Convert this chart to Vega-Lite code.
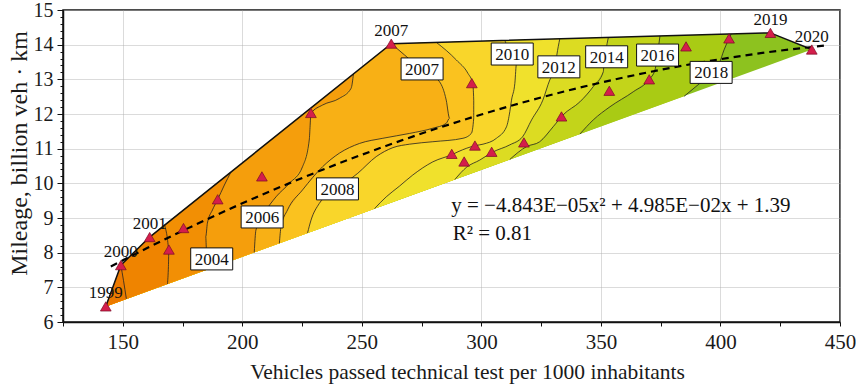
{
  "$schema": "https://vega.github.io/schema/vega-lite/v6.json",
  "width": 777,
  "height": 312,
  "autosize": {"type": "none"},
  "padding": {"left": 63, "top": 10, "right": 16, "bottom": 66},
  "background": "white",
  "view": {"stroke": "#111", "strokeWidth": 1.5},
  "config": {
    "axis": {
      "labelFont": "Liberation Serif",
      "titleFont": "Liberation Serif",
      "labelFontSize": 21,
      "titleFontSize": 21.5,
      "titleFontWeight": "normal",
      "labelColor": "#1a1a1a",
      "titleColor": "#1a1a1a",
      "domainColor": "#111",
      "domainWidth": 1.5,
      "tickColor": "#111",
      "gridColor": "#b0b0b0",
      "labelFlush": false,
      "labelOverlap": false,
      "zindex": 1
    }
  },
  "datasets": {
    "shape": [
      {"c": "H", "o": 1, "x": 142.9, "y": 6.45},
      {"c": "H", "o": 2, "x": 149.2, "y": 7.64},
      {"c": "H", "o": 3, "x": 161.25, "y": 8.45},
      {"c": "H", "o": 4, "x": 262.3, "y": 14.03},
      {"c": "H", "o": 5, "x": 420.9, "y": 14.34},
      {"c": "H", "o": 6, "x": 438.2, "y": 13.86},
      {"c": "K4", "o": 101, "x": 142.9, "y": 6.45},
      {"c": "K4", "o": 102, "x": 149.2, "y": 7.64},
      {"c": "K4", "o": 103, "x": 161.25, "y": 8.45},
      {"c": "K4", "o": 104, "x": 262.3, "y": 14.03},
      {"c": "K3", "o": 101, "x": 142.9, "y": 6.45},
      {"c": "K3", "o": 102, "x": 149.2, "y": 7.64},
      {"c": "K3", "o": 103, "x": 161.25, "y": 8.45},
      {"c": "K1", "o": 101, "x": 142.9, "y": 6.45},
      {"c": "C1", "o": 1, "x": 149.2, "y": 7.64},
      {"c": "C1", "o": 2, "x": 150.3, "y": 7.2},
      {"c": "C1", "o": 3, "x": 151.5, "y": 6.67},
      {"c": "C2", "o": 1, "x": 167.5, "y": 8.8},
      {"c": "C2", "o": 2, "x": 168.6, "y": 8.45},
      {"c": "C2", "o": 3, "x": 169.3, "y": 8.09},
      {"c": "C2", "o": 4, "x": 169.1, "y": 7.6},
      {"c": "C2", "o": 5, "x": 168.7, "y": 7.1},
      {"c": "C3", "o": 1, "x": 195.2, "y": 10.32},
      {"c": "C3", "o": 2, "x": 192.5, "y": 9.95},
      {"c": "C3", "o": 3, "x": 189.6, "y": 9.52},
      {"c": "C3", "o": 4, "x": 187.5, "y": 9.23},
      {"c": "C3", "o": 5, "x": 185.4, "y": 8.85},
      {"c": "C3", "o": 6, "x": 184.7, "y": 8.46},
      {"c": "C3", "o": 7, "x": 185.0, "y": 8.03},
      {"c": "C3", "o": 8, "x": 185.4, "y": 7.52},
      {"c": "C6", "o": 1, "x": 246.5, "y": 13.16},
      {"c": "C6", "o": 2, "x": 245.5, "y": 12.74},
      {"c": "C6", "o": 3, "x": 240.6, "y": 12.45},
      {"c": "C6", "o": 4, "x": 233.6, "y": 12.26},
      {"c": "C6", "o": 5, "x": 228.75, "y": 12.02},
      {"c": "C6", "o": 6, "x": 228.0, "y": 11.25},
      {"c": "C6", "o": 7, "x": 225.2, "y": 10.48},
      {"c": "C6", "o": 8, "x": 219.7, "y": 10.0},
      {"c": "C6", "o": 9, "x": 214.1, "y": 9.61},
      {"c": "C6", "o": 10, "x": 209.2, "y": 9.14},
      {"c": "C6", "o": 11, "x": 205.7, "y": 8.65},
      {"c": "C6", "o": 12, "x": 205.0, "y": 8.01},
      {"c": "L7", "o": 1, "x": 262.3, "y": 14.03},
      {"c": "L7", "o": 2, "x": 267.9, "y": 13.7},
      {"c": "L7", "o": 3, "x": 274.2, "y": 13.33},
      {"c": "L7", "o": 4, "x": 282.5, "y": 12.93},
      {"c": "L7", "o": 5, "x": 285.3, "y": 12.4},
      {"c": "L7", "o": 6, "x": 286.7, "y": 11.88},
      {"c": "L7", "o": 7, "x": 285.3, "y": 11.73},
      {"c": "L7", "o": 8, "x": 279.7, "y": 11.59},
      {"c": "L7", "o": 9, "x": 270.0, "y": 11.44},
      {"c": "L7", "o": 10, "x": 258.8, "y": 11.3},
      {"c": "L7", "o": 11, "x": 249.0, "y": 11.15},
      {"c": "L7", "o": 12, "x": 240.6, "y": 10.87},
      {"c": "L7", "o": 13, "x": 233.6, "y": 10.48},
      {"c": "L7", "o": 14, "x": 225.2, "y": 9.81},
      {"c": "L7", "o": 15, "x": 218.9, "y": 9.23},
      {"c": "L7", "o": 16, "x": 216.2, "y": 8.75},
      {"c": "L7", "o": 17, "x": 215.5, "y": 8.27},
      {"c": "L8", "o": 1, "x": 281.1, "y": 14.07},
      {"c": "L8", "o": 2, "x": 289.5, "y": 13.56},
      {"c": "L8", "o": 3, "x": 294.4, "y": 13.17},
      {"c": "L8", "o": 4, "x": 296.35, "y": 12.89},
      {"c": "L8", "o": 5, "x": 296.8, "y": 12.4},
      {"c": "L8", "o": 6, "x": 296.8, "y": 11.88},
      {"c": "L8", "o": 7, "x": 295.8, "y": 11.44},
      {"c": "L8", "o": 8, "x": 292.3, "y": 11.3},
      {"c": "L8", "o": 9, "x": 279.7, "y": 11.2},
      {"c": "L8", "o": 10, "x": 270.0, "y": 11.13},
      {"c": "L8", "o": 11, "x": 263.0, "y": 11.03},
      {"c": "L8", "o": 12, "x": 256.0, "y": 10.77},
      {"c": "L8", "o": 13, "x": 248.3, "y": 10.29},
      {"c": "L8", "o": 14, "x": 239.8, "y": 9.84},
      {"c": "L8", "o": 15, "x": 232.2, "y": 9.42},
      {"c": "L8", "o": 16, "x": 228.75, "y": 8.94},
      {"c": "L8", "o": 17, "x": 227.3, "y": 8.57},
      {"c": "L10", "o": 1, "x": 309.8, "y": 14.12},
      {"c": "L10", "o": 2, "x": 311.9, "y": 13.79},
      {"c": "L10", "o": 3, "x": 314.7, "y": 13.46},
      {"c": "L10", "o": 4, "x": 314.0, "y": 12.885},
      {"c": "L10", "o": 5, "x": 312.6, "y": 12.4},
      {"c": "L10", "o": 6, "x": 311.9, "y": 12.07},
      {"c": "L10", "o": 7, "x": 310.5, "y": 11.63},
      {"c": "L10", "o": 8, "x": 306.3, "y": 11.3},
      {"c": "L10", "o": 9, "x": 300.7, "y": 11.13},
      {"c": "L10", "o": 10, "x": 297.6, "y": 11.09},
      {"c": "L10", "o": 11, "x": 290.2, "y": 10.91},
      {"c": "L10", "o": 12, "x": 288.1, "y": 10.84},
      {"c": "L10", "o": 13, "x": 279.7, "y": 10.62},
      {"c": "L10", "o": 14, "x": 271.3, "y": 10.24},
      {"c": "L10", "o": 15, "x": 265.75, "y": 9.92},
      {"c": "L10", "o": 16, "x": 260.2, "y": 9.61},
      {"c": "L10", "o": 17, "x": 255.3, "y": 9.27},
      {"c": "L12", "o": 1, "x": 332.8, "y": 14.17},
      {"c": "L12", "o": 2, "x": 331.55, "y": 13.7},
      {"c": "L12", "o": 3, "x": 330.7, "y": 13.27},
      {"c": "L12", "o": 4, "x": 328.6, "y": 12.98},
      {"c": "L12", "o": 5, "x": 325.7, "y": 12.4},
      {"c": "L12", "o": 6, "x": 321.0, "y": 11.83},
      {"c": "L12", "o": 7, "x": 317.2, "y": 11.34},
      {"c": "L12", "o": 8, "x": 311.9, "y": 11.11},
      {"c": "L12", "o": 9, "x": 304.7, "y": 10.9},
      {"c": "L12", "o": 10, "x": 299.3, "y": 10.67},
      {"c": "L12", "o": 11, "x": 293.9, "y": 10.47},
      {"c": "L12", "o": 12, "x": 288.9, "y": 10.11},
      {"c": "L14", "o": 1, "x": 353.1, "y": 14.21},
      {"c": "L14", "o": 2, "x": 352.1, "y": 13.85},
      {"c": "L14", "o": 3, "x": 351.3, "y": 13.5},
      {"c": "L14", "o": 4, "x": 351.0, "y": 13.22},
      {"c": "L14", "o": 5, "x": 346.8, "y": 12.79},
      {"c": "L14", "o": 6, "x": 341.2, "y": 12.35},
      {"c": "L14", "o": 7, "x": 334.1, "y": 11.97},
      {"c": "L14", "o": 8, "x": 330.0, "y": 11.63},
      {"c": "L14", "o": 9, "x": 324.4, "y": 11.2},
      {"c": "L14", "o": 10, "x": 318.9, "y": 11.06},
      {"c": "L14", "o": 11, "x": 311.9, "y": 10.69},
      {"c": "L16", "o": 1, "x": 374.7, "y": 14.25},
      {"c": "L16", "o": 2, "x": 373.9, "y": 13.85},
      {"c": "L16", "o": 3, "x": 372.6, "y": 13.27},
      {"c": "L16", "o": 4, "x": 370.2, "y": 13.0},
      {"c": "L16", "o": 5, "x": 363.5, "y": 12.64},
      {"c": "L16", "o": 6, "x": 353.8, "y": 12.21},
      {"c": "L16", "o": 7, "x": 346.8, "y": 11.83},
      {"c": "L16", "o": 8, "x": 341.2, "y": 11.42},
      {"c": "L18", "o": 1, "x": 404.5, "y": 14.31},
      {"c": "L18", "o": 2, "x": 403.6, "y": 14.18},
      {"c": "L18", "o": 3, "x": 401.5, "y": 13.85},
      {"c": "L18", "o": 4, "x": 399.5, "y": 13.46},
      {"c": "L18", "o": 5, "x": 395.3, "y": 13.12},
      {"c": "L18", "o": 6, "x": 389.7, "y": 12.79},
      {"c": "L18", "o": 7, "x": 384.8, "y": 12.51}
    ],
    "trend": [
      {"x": 145, "y": 7.6}, {"x": 160, "y": 8.126}, {"x": 180, "y": 8.794},
      {"x": 200, "y": 9.423}, {"x": 220, "y": 10.013}, {"x": 240, "y": 10.564},
      {"x": 260, "y": 11.077}, {"x": 280, "y": 11.551}, {"x": 300, "y": 11.986},
      {"x": 320, "y": 12.383}, {"x": 340, "y": 12.741}, {"x": 360, "y": 13.06},
      {"x": 380, "y": 13.34}, {"x": 400, "y": 13.581}, {"x": 420, "y": 13.784},
      {"x": 445, "y": 13.983}
    ],
    "pts": [
      {"x": 142.9, "y": 6.45, "lab": "1999"},
      {"x": 149.2, "y": 7.64, "lab": "2000"},
      {"x": 161.25, "y": 8.45, "lab": "2001"},
      {"x": 169.3, "y": 8.09, "lab": ""},
      {"x": 175.4, "y": 8.71, "lab": ""},
      {"x": 189.7, "y": 9.54, "lab": ""},
      {"x": 208.2, "y": 10.2, "lab": ""},
      {"x": 228.7, "y": 12.03, "lab": ""},
      {"x": 262.3, "y": 14.03, "lab": "2007"},
      {"x": 287.6, "y": 10.85, "lab": ""},
      {"x": 292.8, "y": 10.63, "lab": ""},
      {"x": 296.0, "y": 12.89, "lab": ""},
      {"x": 297.3, "y": 11.09, "lab": ""},
      {"x": 304.3, "y": 10.91, "lab": ""},
      {"x": 317.8, "y": 11.18, "lab": ""},
      {"x": 333.5, "y": 11.93, "lab": ""},
      {"x": 353.5, "y": 12.67, "lab": ""},
      {"x": 370.2, "y": 13.0, "lab": ""},
      {"x": 385.6, "y": 13.95, "lab": ""},
      {"x": 403.6, "y": 14.18, "lab": ""},
      {"x": 420.9, "y": 14.34, "lab": "2019"},
      {"x": 438.2, "y": 13.86, "lab": "2020"}
    ],
    "boxes": [
      {"t": "2004", "x": 187.2, "y": 7.82},
      {"t": "2006", "x": 208.3, "y": 9.03},
      {"t": "2008", "x": 239.8, "y": 9.84},
      {"t": "2007", "x": 275.2, "y": 13.3},
      {"t": "2010", "x": 312.9, "y": 13.73},
      {"t": "2012", "x": 332.4, "y": 13.36},
      {"t": "2014", "x": 352.4, "y": 13.65},
      {"t": "2016", "x": 373.7, "y": 13.7},
      {"t": "2018", "x": 396.1, "y": 13.2}
    ]
  },
  "encoding": {
    "x": {
      "field": "x", "type": "quantitative",
      "scale": {"domain": [125, 450], "nice": false, "zero": false},
      "axis": {
        "title": "Vehicles passed technical test per 1000 inhabitants",
        "titleX": 404,
        "values": [125, 150, 175, 200, 225, 250, 275, 300, 325, 350, 375, 400, 425, 450],
        "labelExpr": "datum.value % 50 == 0 ? datum.label : ''",
        "tickSize": 4,
        "labelPadding": 5,
        "titlePadding": 9,
        "gridOpacity": {"condition": {"test": "datum.value % 50 == 0", "value": 0.45}, "value": 0}
      }
    },
    "y": {
      "field": "y", "type": "quantitative",
      "scale": {"domain": [6, 15], "nice": false, "zero": false},
      "axis": {
        "title": "Mileage, billion veh · km",
        "titleFontSize": 24,
        "titleY": 143,
        "labelFontSize": 20,
        "values": [6, 6.2, 6.4, 6.6, 6.8, 7, 7.2, 7.4, 7.6, 7.8, 8, 8.2, 8.4, 8.6, 8.8, 9, 9.2, 9.4, 9.6, 9.8, 10, 10.2, 10.4, 10.6, 10.8, 11, 11.2, 11.4, 11.6, 11.8, 12, 12.2, 12.4, 12.6, 12.8, 13, 13.2, 13.4, 13.6, 13.8, 14, 14.2, 14.4, 14.6, 14.8, 15],
        "labelExpr": "abs(datum.value - round(datum.value)) < 0.01 ? format(round(datum.value), 'd') : ''",
        "tickSize": {"condition": {"test": "abs(datum.value - round(datum.value)) < 0.01", "value": 6}, "value": 3},
        "labelPadding": 4,
        "titlePadding": 2,
        "gridOpacity": {"condition": {"test": "abs(datum.value - round(datum.value)) < 0.01", "value": 0.45}, "value": 0}
      }
    }
  },
  "layer": [
    {"data": {"name": "shape"}, "transform": [{"filter": "datum.c == 'H'"}],
     "mark": {"type": "line", "fill": "#8DC21F", "strokeWidth": 0},
     "encoding": {"order": {"field": "o", "type": "quantitative"}}},
    {"data": {"name": "shape"}, "transform": [{"filter": "datum.c == 'L18' || datum.c == 'K4'"}],
     "mark": {"type": "line", "fill": "#A9CB14", "strokeWidth": 0},
     "encoding": {"order": {"field": "o", "type": "quantitative"}}},
    {"data": {"name": "shape"}, "transform": [{"filter": "datum.c == 'L16' || datum.c == 'K4'"}],
     "mark": {"type": "line", "fill": "#C3D41A", "strokeWidth": 0},
     "encoding": {"order": {"field": "o", "type": "quantitative"}}},
    {"data": {"name": "shape"}, "transform": [{"filter": "datum.c == 'L14' || datum.c == 'K4'"}],
     "mark": {"type": "line", "fill": "#DCDC22", "strokeWidth": 0},
     "encoding": {"order": {"field": "o", "type": "quantitative"}}},
    {"data": {"name": "shape"}, "transform": [{"filter": "datum.c == 'L12' || datum.c == 'K4'"}],
     "mark": {"type": "line", "fill": "#F0E12C", "strokeWidth": 0},
     "encoding": {"order": {"field": "o", "type": "quantitative"}}},
    {"data": {"name": "shape"}, "transform": [{"filter": "datum.c == 'L10' || datum.c == 'K4'"}],
     "mark": {"type": "line", "fill": "#F9D62A", "strokeWidth": 0},
     "encoding": {"order": {"field": "o", "type": "quantitative"}}},
    {"data": {"name": "shape"}, "transform": [{"filter": "datum.c == 'L8' || datum.c == 'K4'"}],
     "mark": {"type": "line", "fill": "#FAC21F", "strokeWidth": 0},
     "encoding": {"order": {"field": "o", "type": "quantitative"}}},
    {"data": {"name": "shape"}, "transform": [{"filter": "datum.c == 'L7' || datum.c == 'K3'"}],
     "mark": {"type": "line", "fill": "#F8B015", "strokeWidth": 0},
     "encoding": {"order": {"field": "o", "type": "quantitative"}}},
    {"data": {"name": "shape"}, "transform": [{"filter": "datum.c == 'C6' || datum.c == 'K3'"}],
     "mark": {"type": "line", "fill": "#F59E0C", "strokeWidth": 0},
     "encoding": {"order": {"field": "o", "type": "quantitative"}}},
    {"data": {"name": "shape"}, "transform": [{"filter": "datum.c == 'C3' || datum.c == 'K3'"}],
     "mark": {"type": "line", "fill": "#F28F04", "strokeWidth": 0},
     "encoding": {"order": {"field": "o", "type": "quantitative"}}},
    {"data": {"name": "shape"}, "transform": [{"filter": "datum.c == 'C2' || datum.c == 'K3'"}],
     "mark": {"type": "line", "fill": "#EF8400", "strokeWidth": 0},
     "encoding": {"order": {"field": "o", "type": "quantitative"}}},
    {"data": {"name": "shape"}, "transform": [{"filter": "datum.c == 'C1' || datum.c == 'K1'"}],
     "mark": {"type": "line", "fill": "#EC7A00", "strokeWidth": 0},
     "encoding": {"order": {"field": "o", "type": "quantitative"}}},
    {"data": {"name": "shape"}, "transform": [{"filter": "datum.c != 'H' && datum.c != 'K4' && datum.c != 'K3' && datum.c != 'K1'"}],
     "mark": {"type": "line", "color": "#222", "strokeWidth": 0.8, "interpolate": "monotone"},
     "encoding": {"detail": {"field": "c"}, "order": {"field": "o", "type": "quantitative"}}},
    {"data": {"name": "shape"}, "transform": [{"filter": "datum.c == 'H'"}],
     "mark": {"type": "line", "color": "#111", "strokeWidth": 1.5},
     "encoding": {"order": {"field": "o", "type": "quantitative"}}},
    {"data": {"name": "trend"},
     "mark": {"type": "line", "color": "#000", "strokeWidth": 2.2, "strokeDash": [7, 5], "interpolate": "monotone"},
     "encoding": {}},
    {"data": {"name": "boxes"},
     "mark": {"type": "point", "shape": "M-1,-0.524L1,-0.524L1,0.524L-1,0.524Z", "size": 1764, "filled": true, "fill": "white", "stroke": "#111", "strokeWidth": 1, "opacity": 1},
     "encoding": {}},
    {"data": {"name": "boxes"},
     "mark": {"type": "text", "font": "Liberation Serif", "fontSize": 17, "align": "center", "baseline": "middle", "color": "#111", "dy": 1},
     "encoding": {"text": {"field": "t"}}},
    {"data": {"name": "pts"},
     "mark": {"type": "point", "shape": "triangle-up", "size": 115, "filled": true, "fill": "#D41E4B", "stroke": "#7A0A25", "strokeWidth": 0.7, "opacity": 1},
     "encoding": {}},
    {"data": {"name": "pts"}, "transform": [{"filter": "datum.lab != ''"}],
     "mark": {"type": "text", "font": "Liberation Serif", "fontSize": 17, "align": "center", "baseline": "middle", "dy": -13, "color": "#111"},
     "encoding": {"text": {"field": "lab"}}},
    {"data": {"values": [
       {"x": 287.4, "y": 9.35, "t": "y = −4.843E−05x² + 4.985E−02x + 1.39"},
       {"x": 288, "y": 8.54, "t": "R² = 0.81"}
     ]},
     "mark": {"type": "text", "font": "Liberation Serif", "fontSize": 21, "align": "left", "baseline": "middle", "color": "#111"},
     "encoding": {"text": {"field": "t"}}}
  ]
}
